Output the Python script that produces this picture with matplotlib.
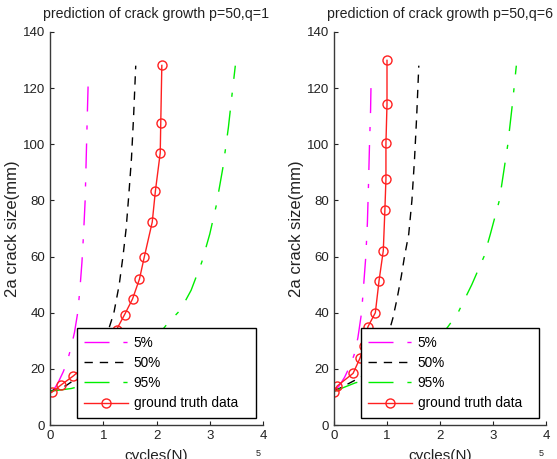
import matplotlib
matplotlib.use("Agg")
import matplotlib.pyplot as plt

plt.rcParams['font.family'] = ['Liberation Sans', 'DejaVu Sans']

titles = ["prediction of crack growth p=50,q=1", "prediction of crack growth p=50,q=6"]
xlabel = "cycles(N)"
ylabel = "2a crack size(mm)"
legend_labels = ["5%", "50%", "95%", "ground truth data"]
xticks = [0, 1, 2, 3, 4]
yticks = [0, 20, 40, 60, 80, 100, 120, 140]

# ---- left panel (q=1), cycles in units of 1e5 ----
q1_p5_x = [0.05, 0.15, 0.25, 0.33, 0.40, 0.46, 0.52, 0.56, 0.60, 0.63, 0.66, 0.68, 0.70, 0.72]
q1_p5_y = [12, 15, 19, 23, 28, 33, 40, 48, 58, 68, 80, 95, 110, 124]
q1_p50_x = [0.0, 0.3, 0.6, 0.85, 1.05, 1.2, 1.3, 1.37, 1.43, 1.48, 1.53, 1.57, 1.61]
q1_p50_y = [12, 14, 18, 24, 31, 40, 50, 60, 70, 82, 95, 110, 128]
q1_p95_x = [0.0, 0.4, 0.8, 1.2, 1.6, 1.95, 2.2, 2.45, 2.65, 2.85, 3.0, 3.12, 3.25, 3.35, 3.42, 3.48]
q1_p95_y = [12, 13, 15, 18, 23, 30, 36, 41, 48, 58, 68, 78, 92, 106, 118, 128]
q1_gt_x = [0.03, 0.21, 0.44, 0.75, 1.02, 1.25, 1.40, 1.55, 1.68, 1.77, 1.92, 1.98, 2.07, 2.08, 2.10]
q1_gt_y = [11.6, 14.3, 17.5, 22.5, 28, 34, 39.3, 44.9, 52, 59.8, 72.3, 83.5, 96.9, 107.6, 128.1]

# ---- right panel (q=6) ----
q6_p5_x = [0.0, 0.1, 0.2, 0.3, 0.38, 0.45, 0.52, 0.56, 0.60, 0.63, 0.65, 0.67, 0.69, 0.70]
q6_p5_y = [12, 14, 17, 21, 25, 31, 40, 50, 60, 72, 85, 100, 112, 123]
q6_p50_x = [0.0, 0.3, 0.6, 0.8, 0.95, 1.05, 1.11, 1.19, 1.27, 1.33, 1.41, 1.47, 1.52, 1.56, 1.60]
q6_p50_y = [12, 15, 18, 23, 29, 34, 38, 45, 53, 60, 68, 80, 95, 110, 128]
q6_p95_x = [0.0, 0.4, 0.8, 1.2, 1.6, 1.9, 2.15, 2.34, 2.6, 2.83, 2.95, 3.12, 3.28, 3.37, 3.44]
q6_p95_y = [12, 15, 17, 20, 24, 29, 35, 40, 50, 60, 68, 80, 100, 115, 128]
q6_gt_x = [0.0, 0.06, 0.36, 0.49, 0.56, 0.64, 0.78, 0.85, 0.93, 0.96, 0.98, 0.98, 1.0, 1.0]
q6_gt_y = [11.9, 13.9, 18.4, 23.8, 28, 35, 40, 51.4, 62.1, 76.6, 87.6, 100.4, 114.2, 129.9]

panels = [
    (q1_p5_x, q1_p5_y, q1_p50_x, q1_p50_y, q1_p95_x, q1_p95_y, q1_gt_x, q1_gt_y),
    (q6_p5_x, q6_p5_y, q6_p50_x, q6_p50_y, q6_p95_x, q6_p95_y, q6_gt_x, q6_gt_y),
]

W, H = 557, 459
fig = plt.figure(figsize=(W / 100, H / 100), dpi=100)
ax_pos = [(50, 263), (334, 546)]
y_bot, y_top = 425, 32

dashdot = (0, (18, 10, 3, 10))
dashed = (0, (6, 5))
spine_col = '#3a3a3a'
txt_col = '#222222'

for i, (pos, data) in enumerate(zip(ax_pos, panels)):
    x0, x1 = pos
    ax = fig.add_axes([x0 / W, (H - y_bot) / H, (x1 - x0) / W, (y_bot - y_top) / H])
    p5x, p5y, p50x, p50y, p95x, p95y, gtx, gty = data
    ax.plot(p5x, p5y, color='#ff00ff', lw=1.0, linestyle=dashdot, label=legend_labels[0])
    ax.plot(p50x, p50y, color='black', lw=1.0, linestyle=dashed, label=legend_labels[1])
    ax.plot(p95x, p95y, color='#00ee00', lw=1.0, linestyle=dashdot, label=legend_labels[2])
    ax.plot(gtx, gty, color='#ff2020', lw=1.0, marker='o', markersize=6.5,
            markerfacecolor='none', markeredgecolor='#ff2020', markeredgewidth=1.0,
            label=legend_labels[3])
    ax.set_xlim(0, 4)
    ax.set_ylim(0, 140)
    ax.set_xticks(xticks)
    ax.set_yticks(yticks)
    ax.tick_params(direction='in', length=3, width=0.8, colors=txt_col, labelsize=9.5, pad=3.5)
    for s in ['top', 'right']:
        ax.spines[s].set_visible(False)
    for s in ['left', 'bottom']:
        ax.spines[s].set_color(spine_col)
        ax.spines[s].set_linewidth(1.0)
    ax.set_title(titles[i], fontsize=10.2, pad=10, color=txt_col)
    ax.set_ylabel(ylabel, fontsize=12, labelpad=2, color=txt_col)
    ax.set_xlabel(xlabel, fontsize=11, labelpad=5, color=txt_col)
    leg = ax.legend(loc='lower left', bbox_to_anchor=(0.125, 0.018, 0.843, 0.23), mode='expand',
                    fontsize=9.8, handlelength=3.2, handletextpad=0.45, labelspacing=0.46,
                    borderpad=0.55, borderaxespad=0.0, fancybox=False, framealpha=1,
                    edgecolor='black')
    leg.get_frame().set_linewidth(1.0)
    fig.text((x1 - 5) / W, 1 - 453 / H, "5", fontsize=6.5, ha='center', va='center', color=txt_col)

fig.savefig("out.png", dpi=100)
